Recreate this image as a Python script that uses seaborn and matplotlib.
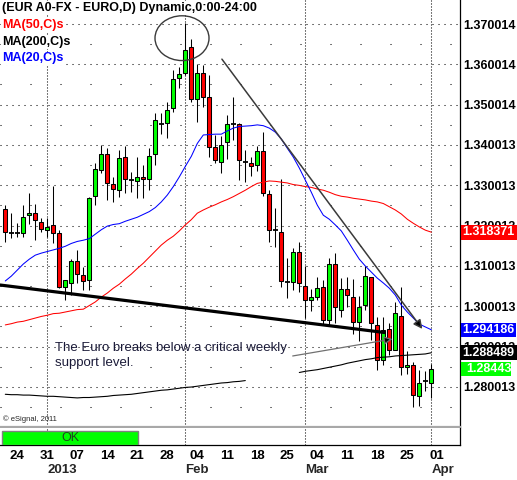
import numpy as np
import pandas as pd
import seaborn as sns
import matplotlib.pyplot as plt
from matplotlib import transforms
from matplotlib.patches import Rectangle, Ellipse

# daily EUR/USD candles, 20 Dec 2012 .. 29 Mar 2013 (one slot per weekday)
opens = [1.3241, 1.3182, 1.3181, 1.3181, 1.3226, 1.3232, 1.3208, 1.3190, 1.3201, 1.3183,
         1.3047, 1.3058, 1.3113, 1.3078, 1.3065, 1.3273, 1.3338, 1.3377, 1.3303, 1.3288,
         1.3371, 1.3313, 1.3312, 1.3321, 1.3317, 1.3379, 1.3452, 1.3455, 1.3491, 1.3567,
         1.3578, 1.3644, 1.3514, 1.3579, 1.3518, 1.3394, 1.3359, 1.3407, 1.3452, 1.3451,
         1.3359, 1.3355, 1.3350, 1.3385, 1.3278, 1.3189, 1.3185, 1.3060, 1.3060, 1.3135,
         1.3051, 1.3016, 1.3022, 1.3047, 1.2966, 1.3105, 1.2990, 1.3042, 1.3022, 1.2962,
         1.3003, 1.3072, 1.2955, 1.2867, 1.2943, 1.2893, 1.2976, 1.2849, 1.2854, 1.2777,
         1.2815, 1.2811]
highs = [1.3251, 1.3232, 1.3206, 1.3251, 1.3282, 1.3254, 1.3219, 1.3219, 1.3298, 1.3189,
         1.3065, 1.3117, 1.3140, 1.3097, 1.3271, 1.3355, 1.3400, 1.3392, 1.3321, 1.3388,
         1.3397, 1.3333, 1.3371, 1.3350, 1.3392, 1.3479, 1.3479, 1.3507, 1.3586, 1.3593,
         1.3702, 1.3662, 1.3601, 1.3598, 1.3574, 1.3425, 1.3422, 1.3474, 1.3519, 1.3454,
         1.3388, 1.3371, 1.3397, 1.3433, 1.3288, 1.3244, 1.3317, 1.3119, 1.3144, 1.3160,
         1.3100, 1.3043, 1.3072, 1.3065, 1.3120, 1.3132, 1.3070, 1.3072, 1.3068, 1.3025,
         1.3100, 1.3073, 1.2973, 1.2973, 1.2958, 1.3011, 1.3049, 1.2889, 1.2863, 1.2841,
         1.2839, 1.2857]
lows = [1.3159, 1.3170, 1.3173, 1.3173, 1.3204, 1.3164, 1.3184, 1.3172, 1.3158, 1.3045,
        1.3016, 1.3028, 1.3058, 1.3040, 1.3040, 1.3251, 1.3331, 1.3264, 1.3259, 1.3271,
        1.3280, 1.3283, 1.3268, 1.3268, 1.3288, 1.3350, 1.3427, 1.3417, 1.3483, 1.3541,
        1.3574, 1.3507, 1.3458, 1.3494, 1.3371, 1.3355, 1.3331, 1.3365, 1.3412, 1.3313,
        1.3309, 1.3323, 1.3335, 1.3273, 1.3160, 1.3148, 1.3048, 1.3020, 1.3040, 1.3036,
        1.2970, 1.2988, 1.3016, 1.2956, 1.2953, 1.2958, 1.2973, 1.2999, 1.2931, 1.2914,
        1.2991, 1.2916, 1.2842, 1.2854, 1.2879, 1.2891, 1.2830, 1.2832, 1.2751, 1.2754,
        1.2790, 1.2772]
closes = [1.3184, 1.3182, 1.3181, 1.3221, 1.3232, 1.3214, 1.3191, 1.3197, 1.3183, 1.3047,
          1.3065, 1.3112, 1.3080, 1.3063, 1.3268, 1.3340, 1.3379, 1.3305, 1.3290, 1.3369,
          1.3317, 1.3313, 1.3320, 1.3315, 1.3373, 1.3462, 1.3452, 1.3488, 1.3563, 1.3576,
          1.3636, 1.3514, 1.3579, 1.3520, 1.3394, 1.3364, 1.3401, 1.3451, 1.3452, 1.3363,
          1.3359, 1.3349, 1.3386, 1.3282, 1.3189, 1.3189, 1.3063, 1.3060, 1.3135, 1.3057,
          1.3017, 1.3024, 1.3046, 1.2966, 1.3105, 1.2999, 1.3042, 1.3028, 1.2961, 1.2999,
          1.3075, 1.2958, 1.2867, 1.2941, 1.2893, 1.2984, 1.2849, 1.2854, 1.2780, 1.2811,
          1.2815, 1.2844]

ma20 = [1.3063, 1.3075, 1.3090, 1.3105, 1.3117, 1.3127, 1.3132, 1.3136, 1.3140, 1.3144,
        1.3149, 1.3156, 1.3161, 1.3164, 1.3168, 1.3179, 1.3190, 1.3199, 1.3203, 1.3205,
        1.3211, 1.3216, 1.3221, 1.3228, 1.3235, 1.3245, 1.3259, 1.3276, 1.3297, 1.3321,
        1.3347, 1.3372, 1.3404, 1.3425, 1.3426, 1.3427, 1.3427, 1.3435, 1.3442, 1.3446,
        1.3447, 1.3448, 1.3450, 1.3448, 1.3442, 1.3432, 1.3415, 1.3392, 1.3370, 1.3343,
        1.3313, 1.3283, 1.3251, 1.3226, 1.3216, 1.3202, 1.3187, 1.3164, 1.3140, 1.3117,
        1.3100, 1.3085, 1.3070, 1.3058, 1.3045, 1.3028, 1.3003, 1.2986, 1.2971, 1.2956,
        1.2949, 1.2942]
ma50 = [1.2954, 1.2957, 1.2961, 1.2963, 1.2967, 1.2971, 1.2975, 1.2978, 1.2982, 1.2983,
        1.2986, 1.2989, 1.2992, 1.2993, 1.3002, 1.3011, 1.3023, 1.3033, 1.3045, 1.3055,
        1.3068, 1.3080, 1.3094, 1.3107, 1.3122, 1.3137, 1.3152, 1.3164, 1.3174, 1.3187,
        1.3202, 1.3215, 1.3231, 1.3239, 1.3246, 1.3252, 1.3259, 1.3265, 1.3272, 1.3280,
        1.3288, 1.3297, 1.3305, 1.3308, 1.3311, 1.3310, 1.3308, 1.3306, 1.3302, 1.3300,
        1.3297, 1.3295, 1.3291, 1.3288, 1.3283, 1.3277, 1.3273, 1.3271, 1.3268, 1.3266,
        1.3264, 1.3261, 1.3259, 1.3255, 1.3247, 1.3239, 1.3229, 1.3216, 1.3206, 1.3197,
        1.3189, 1.3184]
# MA200 is hidden behind the note text for a few days
ma200 = [1.2782, 1.2781, 1.2781, 1.2780, 1.2780, 1.2779, 1.2778, 1.2777, 1.2777, 1.2776,
         1.2775, 1.2774, 1.2773, 1.2774, 1.2774, 1.2775, 1.2776, 1.2777, 1.2779, 1.2780,
         1.2781, 1.2782, 1.2784, 1.2786, 1.2788, 1.2790, 1.2792, 1.2793, 1.2795, 1.2797,
         1.2799, 1.2800, 1.2802, 1.2804, 1.2806, 1.2808, 1.2810, 1.2811, 1.2813, 1.2814,
         1.2816, None, None, None, None, None, None, None, None, 1.2836,
         1.2839, 1.2841, 1.2843, 1.2846, 1.2849, 1.2852, 1.2855, 1.2859, 1.2862, 1.2865,
         1.2868, 1.2870, 1.2873, 1.2874, 1.2875, 1.2877, 1.2878, 1.2879, 1.2880, 1.2881,
         1.2882, 1.2885]

week_ticks = [2, 7, 12, 17, 22, 27, 32, 37, 42, 47, 52, 57, 62, 67, 72]
week_labels = ['24', '31', '07', '14', '21', '28', '04', '11', '18', '25',
               '04', '11', '18', '25', '01']
month_marks = [7, 30, 50, 71]
month_labels = ['2013', 'Feb', 'Mar', 'Apr']

price_ticks = [1.280013, 1.290013, 1.300013, 1.310013, 1.320013,
               1.330013, 1.340013, 1.350014, 1.360014, 1.370014]
price_labels = ['1.280013', '1.290013', '1.300013', '1.310013', '1.320013',
                '1.330013', '1.340013', '1.350014', '1.360014', '1.370014']

last_names = ['MA50', 'MA20', 'MA200', 'Close']
last_values = [1.318371, 1.294186, 1.288489, 1.28443]
last_texts = ['1.318371', '1.294186', '1.288489', '1.28443']

# drawn annotations (day index, price)
support_line = [(-0.9, 1.3053), (63.3, 1.2935)]
down_arrow = [(36.1, 1.3613), (69.5, 1.2944)]
note_arrow = [(47.9, 1.2877), (64.5, 1.2919)]
top_circle = (29.45, 1.3665)

sns.set_theme(style='white')
plt.rcParams['font.family'] = ['Liberation Sans', 'DejaVu Sans']
plt.rcParams['lines.scale_dashes'] = False

W, H = 517, 480
fig = plt.figure(figsize=(W / 100, H / 100), dpi=100)
fig.patch.set_facecolor('white')
ax = fig.add_axes([0, 1 - 427 / H, 460 / W, 427 / H])
ax2 = fig.add_axes([0, 1 - 445 / H, 460 / W, 17 / H])

xlim = (-0.883, 75.78)
ylim = (1.270088, 1.375965)

# grid: dense dots on the 0.01 levels, sparse dots halfway, dotted month lines
for p in price_ticks:
    ax.axhline(p, color='black', lw=0.75, ls=(0, (0.75, 3.57)), zorder=0)
    ax.axhline(p - 0.005, color='black', lw=0.75, ls=(0, (0.75, 20.85)), zorder=0)
for m in month_marks:
    for a in (ax, ax2):
        a.axvline(m, color='black', lw=0.75, ls=(0, (0.75, 1.41)), zorder=0)

# candles
df = pd.DataFrame({'open': opens, 'high': highs, 'low': lows, 'close': closes})
df['day'] = np.arange(len(df))
ax.vlines(df.day, df.low, df.high, color='black', lw=0.75, zorder=2)
up = df[df.close > df.open]
dn = df[df.close < df.open]
flat = df[df.close == df.open]
ax.bar(up.day, up.close - up.open, bottom=up.open, width=0.68,
       color='#00FF00', edgecolor='black', linewidth=0.75, zorder=3)
ax.bar(dn.day, dn.close - dn.open, bottom=dn.open, width=0.68,
       color='#FF0000', edgecolor='black', linewidth=0.75, zorder=3)
ax.hlines(flat.close, flat.day - 0.42, flat.day + 0.42, color='black', lw=1.3, zorder=3)

# moving averages
ma = pd.DataFrame({'day': np.arange(len(ma20)), 'ma20': ma20, 'ma50': ma50,
                   'ma200': pd.array(ma200, dtype='Float64')})
sns.lineplot(data=ma, x='day', y='ma50', ax=ax, color='#FF0000', lw=0.75, zorder=4)
sns.lineplot(data=ma, x='day', y='ma20', ax=ax, color='#0000FF', lw=0.75, zorder=4)
m200 = ma[['day', 'ma200']].dropna().astype(float)
gap = m200.day.diff().fillna(1).gt(1).cumsum()
for _, seg in m200.groupby(gap):
    sns.lineplot(data=seg, x='day', y='ma200', ax=ax, color='black', lw=0.8, zorder=4)

# hand drawn studies
(x0, y0), (x1, y1) = support_line
ax.plot([x0, x1], [y0, y1], color='black', lw=2.3, solid_capstyle='butt', zorder=5)
ax.annotate('', xy=down_arrow[1], xytext=down_arrow[0],
            arrowprops=dict(arrowstyle='-|>', ec='#3a3a3a', fc='black', lw=1.1,
                            mutation_scale=13, shrinkA=0, shrinkB=0), zorder=5)
ax.annotate('', xy=note_arrow[1], xytext=note_arrow[0],
            arrowprops=dict(arrowstyle='-|>', ec='#707070', fc='black', lw=0.9,
                            mutation_scale=12, shrinkA=0, shrinkB=0), zorder=5)
ax.add_patch(Ellipse(top_circle, width=9.0, height=0.0111, fill=False,
                     ec='#3a3a3a', lw=1.0, zorder=5))
ax.text(8.3, 1.2911, 'The Euro breaks below a critical weekly\nsupport level.',
        fontsize=9.5, color='#1a1a38', va='top', ha='left', linespacing=1.25, zorder=6)

ax.set_xlim(*xlim)
ax.set_ylim(*ylim)
ax.set_xlabel('')
ax.set_ylabel('')
ax.set_xticks([])
ax.yaxis.tick_right()
ax.set_yticks(price_ticks)
ax.set_yticklabels(price_labels, fontsize=9, fontweight='bold')
ax.tick_params(axis='y', length=0, pad=2, colors='black')
for s in ('left', 'top'):
    ax.spines[s].set_visible(False)
ax.spines['right'].set_color('black')
ax.spines['right'].set_linewidth(0.9)
ax.spines['bottom'].set_color('#A8A8A8')
ax.spines['bottom'].set_linewidth(1.6)

# last value boxes on the price scale
box_colors = ['#FF0000', '#0000FF', '#000000', '#00FF00']
box_right = [517, 516, 517, 511]
text_left = [462, 462, 462, 466]
bt = transforms.blended_transform_factory(fig.transFigure, ax.transData)
for v, t, c, r, tl in zip(last_values, last_texts, box_colors, box_right, text_left):
    hh = 7.3 / 4033
    ax.add_patch(Rectangle((461 / W, v - hh), (r - 461) / W, 2 * hh, transform=bt,
                           facecolor=c, edgecolor='none', clip_on=False, zorder=20))
    ax.text(tl / W, v, t, transform=bt, color='white', fontsize=9, fontweight='bold',
            va='center', ha='left', clip_on=False, zorder=21)

# header texts
hdr = [('(EUR A0-FX - EURO,D) Dynamic,0:00-24:00', 'black', 7.5),
       ('MA(50,C)s', '#FF0000', 25),
       ('MA(200,C)s', 'black', 42),
       ('MA(20,C)s', '#0000FF', 58.5)]
for txt, col, yy in hdr:
    fig.text(2 / W, 1 - yy / H, txt, color=col, fontsize=9, fontweight='bold',
             va='center', ha='left',
             bbox=dict(boxstyle='square,pad=0.05', fc='white', ec='none'))
fig.text(3 / W, 1 - 419 / H, '\u00a9 eSignal, 2011', fontsize=5.5, va='center', ha='left')

# bottom strip with date scale
ax2.set_xlim(*xlim)
ax2.set_ylim(0, 1)
ax2.set_yticks([])
ax2.set_xticks(week_ticks)
ax2.set_xticklabels(week_labels, fontsize=9.5, fontweight='bold')
ax2.tick_params(axis='x', length=0, pad=3.5, colors='black')
ax2.set_facecolor('white')
for s in ('left', 'top'):
    ax2.spines[s].set_visible(False)
for s in ('right', 'bottom'):
    ax2.spines[s].set_color('black')
    ax2.spines[s].set_linewidth(0.9)
ax2.add_patch(Rectangle((2 / 460, 0.0), 136 / 460, 14 / 17, transform=ax2.transAxes,
                        facecolor='#00FF00', edgecolor='#808080', lw=1.0, zorder=5))
ax2.text(70 / 460, 7 / 17, 'OK', transform=ax2.transAxes, fontsize=9,
         color='#204020', ha='center', va='center', zorder=6)
mt = transforms.blended_transform_factory(ax2.transData, fig.transFigure)
for m, lab in zip(month_marks, month_labels):
    ax2.text(m, 1 - 470 / H, lab, transform=mt, fontsize=9.5, fontweight='bold',
             ha='left', va='center', clip_on=False)

fig.savefig('out.png', dpi=100)
